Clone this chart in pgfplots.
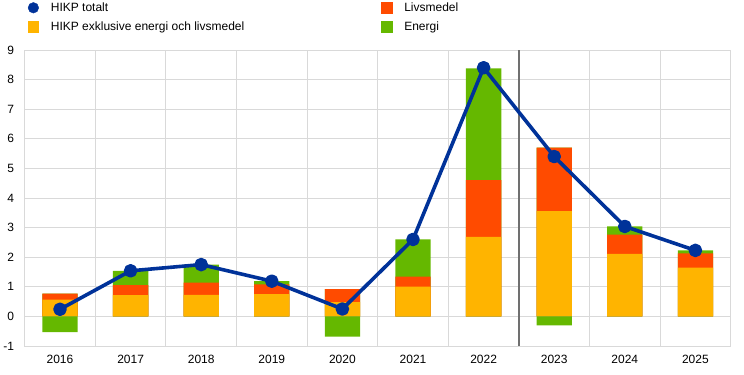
\documentclass[border=0pt]{standalone}
\usepackage{fontspec}
\setmainfont{Liberation Sans}
\usepackage{pgfplots}
\usepackage{pgfplotstable}
\pgfplotsset{compat=1.18}
\definecolor{ecbblue}{HTML}{003299}
\definecolor{ecbyellow}{HTML}{FFB400}
\definecolor{ecbred}{HTML}{FF4B00}
\definecolor{ecbgreen}{HTML}{65B800}
\definecolor{gridgray}{HTML}{D9D9D9}
\definecolor{divgray}{HTML}{707070}
\pgfplotstableread{
x core food energy total
0 0.57 0.20 -0.53 0.24
1 0.72 0.34 0.48 1.54
2 0.73 0.41 0.61 1.75
3 0.75 0.33 0.11 1.19
4 0.48 0.44 -0.68 0.25
5 1.01 0.33 1.26 2.60
6 2.69 1.91 3.78 8.40
7 3.56 2.14 -0.30 5.40
8 2.11 0.65 0.28 3.04
9 1.65 0.48 0.10 2.23
}\datatable
\newcommand{\lfont}{\fontsize{12bp}{14bp}\selectfont}
\begin{document}
\begin{tikzpicture}
\path[use as bounding box] (-24.7bp,-29bp) rectangle (719.3bp,346bp);
\begin{axis}[
  at={(0,0)}, anchor=south west,
  scale only axis, width=706bp, height=296bp,
  xmin=-0.5, xmax=9.5, ymin=-1, ymax=9,
  xtick={0,1,2,3,4,5,6,7,8,9},
  xticklabels={2016,2017,2018,2019,2020,2021,2022,2023,2024,2025},
  minor xtick={0.5,1.5,2.5,3.5,4.5,5.5,6.5,7.5,8.5},
  ytick={-1,0,1,2,3,4,5,6,7,8,9},
  ymajorgrids, xminorgrids,
  grid style={draw=gridgray, line width=1bp},
  minor grid style={draw=gridgray, line width=1bp},
  major grid style={draw=gridgray, line width=1bp},
  axis line style={draw=gridgray, line width=1bp},
  major tick length=0pt, minor tick length=0pt,
  tick label style={font=\lfont, inner sep=0pt},
  /pgf/number format/assume math mode=true,
  xticklabel shift=9bp,
  yticklabel shift=10.5bp,
  extra x ticks={6.5}, extra x tick labels={},
  extra x tick style={grid=major, major grid style={draw=divgray, line width=1.2bp}},
  ybar, bar width=0.5,
  legend columns=2,
  legend cell align=left,
  legend style={draw=none, fill=none, font=\lfont, at={(0,1)}, anchor=north west,
    xshift=3bp, yshift=49.5bp, inner sep=0pt, row sep=4.5bp,
    /tikz/column 2/.style={column sep=135bp},
    /tikz/every odd column/.append style={column sep=10bp}},
]
\addlegendimage{legend image code/.code={\fill[ecbblue] (5.3bp,0) circle[radius=5.3bp];}}
\addlegendentry{HIKP totalt}
\addlegendimage{legend image code/.code={\fill[ecbred] (0,-5.3bp) rectangle (10.6bp,5.3bp);}}
\addlegendentry{Livsmedel}
\addlegendimage{legend image code/.code={\fill[ecbyellow] (0,-5.3bp) rectangle (10.6bp,5.3bp);}}
\addlegendentry{HIKP exklusive energi och livsmedel}
\addlegendimage{legend image code/.code={\fill[ecbgreen] (0,-5.3bp) rectangle (10.6bp,5.3bp);}}
\addlegendentry{Energi}
\addplot[forget plot, fill=ecbgreen, draw=none, bar shift=0pt]
  table[x=x, y expr={\thisrow{core}+\thisrow{food}+max(\thisrow{energy},0)}]{\datatable};
\addplot[forget plot, fill=ecbred, draw=none, bar shift=0pt]
  table[x=x, y expr={\thisrow{core}+\thisrow{food}}]{\datatable};
\addplot[forget plot, fill=ecbyellow, draw=none, bar shift=0pt]
  table[x=x, y=core]{\datatable};
\addplot[forget plot, fill=ecbgreen, draw=none, bar shift=0pt]
  table[x=x, y expr={min(\thisrow{energy},0)}]{\datatable};
\addplot[forget plot, sharp plot, color=ecbblue, line width=3.6bp, line join=round, line cap=round,
  mark=*, mark size=5bp,
  mark options={fill=ecbblue, draw=none}]
  table[x=x, y=total]{\datatable};
\end{axis}
\end{tikzpicture}
\end{document}
